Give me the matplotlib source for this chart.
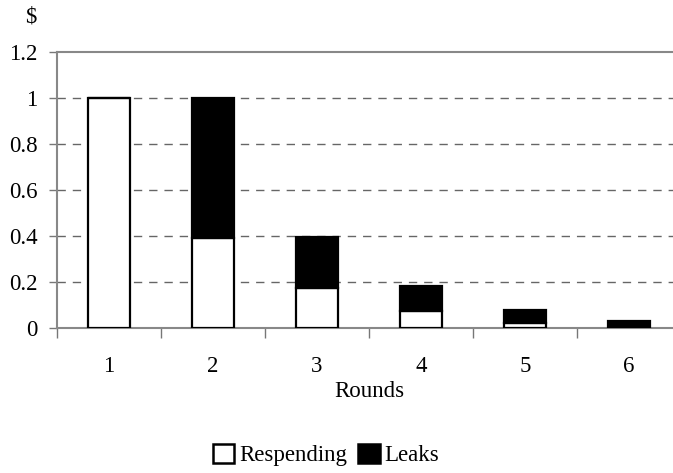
import numpy as np
import matplotlib.pyplot as plt

rounds = ['1', '2', '3', '4', '5', '6']
respending = [1.0, 0.39, 0.175, 0.075, 0.022, 0.0]
leaks = [0.0, 0.61, 0.22, 0.108, 0.058, 0.032]

plt.rcParams['font.family'] = ['Liberation Serif', 'DejaVu Serif']
plt.rcParams['font.size'] = 16.5

fig = plt.figure(figsize=(6.73, 4.73), dpi=100)
ax = fig.add_axes([57 / 673, 145 / 473, 624 / 673, 276 / 473])

x = np.arange(len(rounds))
ax.bar(x, respending, width=0.41, color='white', edgecolor='black', linewidth=1.6, zorder=3)
ax.bar(x, leaks, width=0.41, bottom=respending, color='black', edgecolor='black',
       linewidth=1.6, zorder=3)

ax.set_xlim(-0.5, 5.5)
ax.set_ylim(0, 1.2)
ax.set_yticks([0, 0.2, 0.4, 0.6, 0.8, 1, 1.2])
ax.set_yticklabels(['0', '0.2', '0.4', '0.6', '0.8', '1', '1.2'])
ax.set_xticks(x)
ax.set_xticklabels(rounds)
ax.set_xticks(np.arange(-0.5, 6, 1), minor=True)
ax.tick_params(axis='x', which='major', length=0, pad=20)
ax.tick_params(axis='x', which='minor', length=7, color='#777777', width=1)
ax.tick_params(axis='y', length=6, color='#777777', width=1, pad=8)

for y in [0.2, 0.4, 0.6, 0.8, 1.0]:
    ax.axhline(y, color='#666666', linestyle=(0, (6, 5)), linewidth=1, zorder=1)

for side in ['left', 'bottom', 'top']:
    ax.spines[side].set_color('#888888')
    ax.spines[side].set_linewidth(1.5)
ax.spines['right'].set_visible(False)

ax.set_xlabel('Rounds', labelpad=3)
fig.text(31 / 673, 1 - 17 / 473, '$', ha='center', va='center')

handles = [plt.Rectangle((0, 0), 1, 1, facecolor='white', edgecolor='black', linewidth=1.8),
           plt.Rectangle((0, 0), 1, 1, facecolor='black', edgecolor='black', linewidth=1.8)]
fig.legend(handles, ['Respending', 'Leaks'], loc='center', bbox_to_anchor=(326 / 673, 1 - 455 / 473),
           ncol=2, frameon=False, handlelength=0.95, handleheight=0.95, handletextpad=0.2,
           columnspacing=0.5, borderpad=0)

fig.savefig('out.png', dpi=100)
